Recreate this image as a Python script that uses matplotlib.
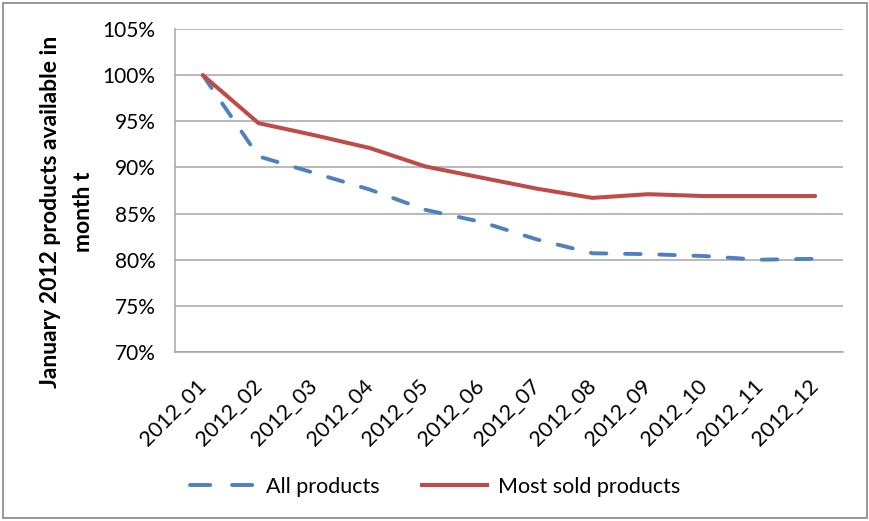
import matplotlib.pyplot as plt
from matplotlib.lines import Line2D
from matplotlib.patches import Rectangle
from matplotlib.ticker import FuncFormatter

# data
months = ['2012_01', '2012_02', '2012_03', '2012_04', '2012_05', '2012_06',
          '2012_07', '2012_08', '2012_09', '2012_10', '2012_11', '2012_12']
all_products = [100.0, 91.2, 89.4, 87.6, 85.4, 84.1, 82.2, 80.7, 80.6, 80.4, 80.0, 80.1]
most_sold = [100.0, 94.8, 93.5, 92.1, 90.1, 88.9, 87.7, 86.7, 87.1, 86.9, 86.9, 86.9]
y_ticks = [70, 75, 80, 85, 90, 95, 100, 105]

BLUE = '#4F81BD'
RED = '#BE4B48'

plt.rcParams['font.family'] = ['Lato', 'DejaVu Sans']

fig = plt.figure(figsize=(8.7, 5.21), dpi=100)
ax = fig.add_axes([175 / 870, 1 - 352 / 521, 668 / 870, 323 / 521])

x = range(len(months))
ax.plot(x, all_products, color=BLUE, lw=2.8, ls=(0, (4.0, 4.8)),
        dash_capstyle='round', solid_capstyle='round')
ax.plot(x, most_sold, color=RED, lw=2.9, solid_capstyle='round')

ax.set_xlim(-0.5, len(months) - 0.5)
ax.set_ylim(70, 105)
ax.set_yticks(y_ticks)
ax.yaxis.set_major_formatter(FuncFormatter(lambda v, p: f"{v:.0f}%"))
ax.set_xticks(list(x))
ax.set_xticklabels(months, rotation=45, ha='right', va='center',
                   rotation_mode='anchor')
ax.tick_params(axis='both', length=0, colors='black')
ax.tick_params(axis='y', pad=14, labelsize=15)
ax.tick_params(axis='x', pad=22, labelsize=15.5)

ax.grid(axis='y', color='#A6A6A6', lw=1.1)
ax.set_axisbelow(True)
for side in ['top', 'right']:
    ax.spines[side].set_visible(False)
for side in ['left', 'bottom']:
    ax.spines[side].set_color('#A6A6A6')
    ax.spines[side].set_linewidth(1.1)

# y axis title, two centred lines
fig.text(67 / 870, 1 - 212 / 521, 'January 2012 products available in\nmonth t',
         rotation=90, ha='center', va='center', multialignment='center',
         fontsize=16.5, fontweight='bold', linespacing=1.65)

# legend keys drawn like Excel's: two dashes for the blue one
handles = [Line2D([], [], color=BLUE, lw=2.8, ls=(0, (5.2, 5.6)),
                  dash_capstyle='round'),
           Line2D([], [], color=RED, lw=2.9)]
fig.legend(handles, ['All products', 'Most sold products'], loc='center',
           bbox_to_anchor=(0.5, 1 - 487 / 521), ncol=2, frameon=False,
           fontsize=15.5, handlelength=3.0, columnspacing=2.0,
           handletextpad=0.5)

# outer chart border
fig.patches.append(Rectangle((3 / 870, 3 / 521), 1 - 6 / 870, 1 - 6 / 521,
                             transform=fig.transFigure, fill=False,
                             ec='#868686', lw=1.2))

fig.savefig('out.png', dpi=100)
